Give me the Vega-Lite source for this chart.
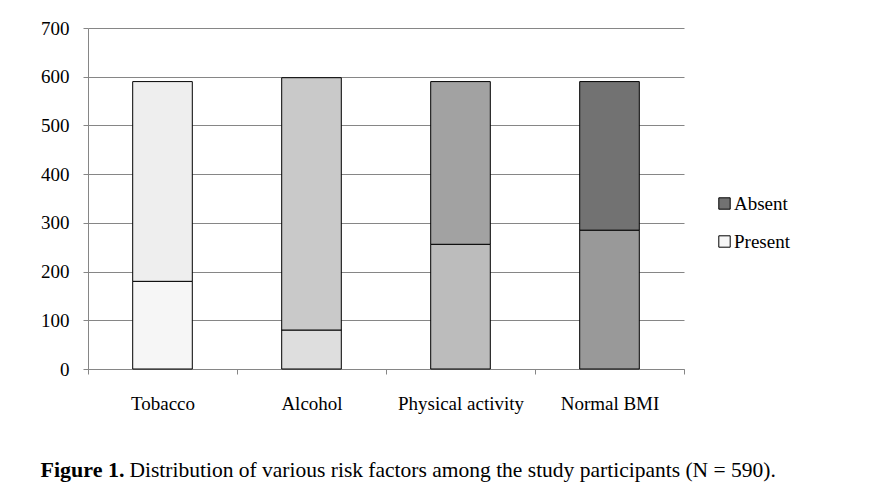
{
  "$schema": "https://vega.github.io/schema/vega-lite/v6.json",
  "width": 596,
  "height": 341,
  "autosize": {"type": "none"},
  "padding": {"left": 88, "top": 28, "right": 207, "bottom": 124},
  "background": "white",
  "data": {
    "values": [
      {"factor": "Tobacco", "status": "Present", "count": 180},
      {"factor": "Tobacco", "status": "Absent", "count": 410},
      {"factor": "Alcohol", "status": "Present", "count": 80},
      {"factor": "Alcohol", "status": "Absent", "count": 518},
      {"factor": "Physical activity", "status": "Present", "count": 256},
      {"factor": "Physical activity", "status": "Absent", "count": 334},
      {"factor": "Normal BMI", "status": "Present", "count": 285},
      {"factor": "Normal BMI", "status": "Absent", "count": 305}
    ]
  },
  "transform": [
    {"calculate": "datum.factor + '|' + datum.status", "as": "key"},
    {"calculate": "datum.status == 'Present' ? 0 : 1", "as": "stackOrder"}
  ],
  "mark": {"type": "bar", "width": {"band": 0.4}, "stroke": "black", "strokeWidth": 1},
  "encoding": {
    "x": {
      "field": "factor",
      "type": "nominal",
      "sort": ["Tobacco", "Alcohol", "Physical activity", "Normal BMI"],
      "scale": {"paddingInner": 0, "paddingOuter": 0},
      "axis": {
        "title": "Distribution of various risk factors among the study participants (N = 590).",
        "titleX": 41,
        "titleY": 107,
        "titleAlign": "left",
        "titleBaseline": "alphabetic",
        "titleFont": "Liberation Serif",
        "titleFontSize": 21.5,
        "titleFontWeight": "normal",
        "titleColor": "black",
        "labelAngle": 0,
        "labelFont": "Liberation Serif",
        "labelFontSize": 19,
        "labelColor": "black",
        "labelPadding": 20,
        "tickBand": "extent",
        "tickSize": 5,
        "tickColor": "#868686",
        "domainColor": "#868686",
        "grid": false
      }
    },
    "y": {
      "field": "count",
      "type": "quantitative",
      "stack": "zero",
      "scale": {"domain": [0, 700], "nice": false},
      "axis": {
        "values": [0, 100, 200, 300, 400, 500, 600, 700],
        "title": "Figure 1.",
        "titleAngle": 0,
        "titleX": -48,
        "titleY": 448,
        "titleAlign": "left",
        "titleBaseline": "alphabetic",
        "titleFont": "Liberation Serif",
        "titleFontSize": 22,
        "titleFontWeight": "bold",
        "titleColor": "black",
        "labelFont": "Liberation Serif",
        "labelFontSize": 19,
        "labelColor": "black",
        "labelPadding": 14,
        "tickSize": 5,
        "tickColor": "#868686",
        "domainColor": "#868686",
        "grid": true,
        "gridColor": "#868686"
      }
    },
    "fill": {
      "field": "key",
      "type": "nominal",
      "scale": {
        "domain": ["Tobacco|Present", "Tobacco|Absent", "Alcohol|Present", "Alcohol|Absent", "Physical activity|Present", "Physical activity|Absent", "Normal BMI|Present", "Normal BMI|Absent"],
        "range": ["#f6f6f6", "#eeeeee", "#dedede", "#c9c9c9", "#bcbcbc", "#a2a2a2", "#999999", "#727272"]
      },
      "legend": {
        "values": ["Normal BMI|Absent", "Tobacco|Present"],
        "labelExpr": "split(datum.label, '|')[1]",
        "title": null,
        "orient": "none",
        "legendX": 627,
        "legendY": 166,
        "symbolType": "square",
        "symbolSize": 130,
        "symbolStrokeColor": "black",
        "symbolStrokeWidth": 1,
        "labelFont": "Liberation Serif",
        "labelFontSize": 19,
        "labelColor": "black",
        "labelOffset": 0,
        "rowPadding": 18
      }
    },
    "order": {"field": "stackOrder", "type": "quantitative"}
  },
  "config": {"view": {"stroke": null}}
}
